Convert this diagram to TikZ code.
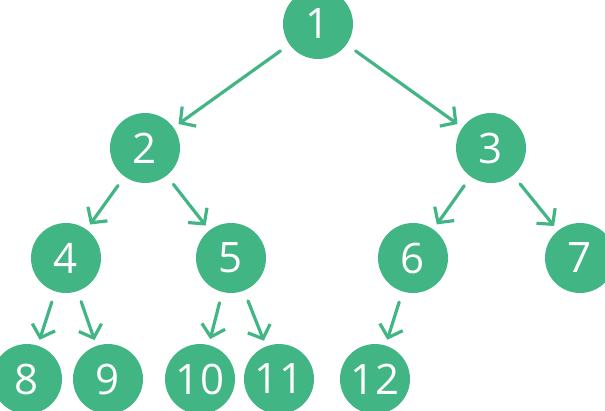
\documentclass[tikz,border=0pt]{standalone}
\usepackage{fontspec}
\setmainfont{Open Sans}
\usetikzlibrary{arrows.meta}
\definecolor{treegreen}{HTML}{42B584}
\tikzset{
  treenode/.style={circle, fill=treegreen, minimum size=70pt, inner sep=0pt,
    text=white, font=\fontsize{42}{42}\selectfont},
  edge/.style={draw=treegreen, line width=3.2pt, line cap=round,
    -{Straight Barb[length=11pt,width=24pt,line width=3.2pt]},
    shorten <=11pt, shorten >=6pt}
}
\begin{document}
\begin{tikzpicture}[x=1pt,y=-1pt]
\useasboundingbox (0,0) rectangle (605,410);
\node[treenode] (n1) at (318,24) {1};
\node[treenode] (n2) at (145,148) {2};
\node[treenode] (n3) at (491,148) {3};
\node[treenode] (n4) at (66,258) {4};
\node[treenode] (n5) at (231,258) {5};
\node[treenode] (n6) at (413,258) {6};
\node[treenode] (n7) at (580,258) {7};
\node[treenode] (n8) at (27,379) {8};
\node[treenode] (n9) at (108,379) {9};
\node[treenode] (n10) at (200,379) {10};
\node[treenode] (n11) at (279,379) {11};
\node[treenode] (n12) at (375,379) {12};
\draw[edge] (n1) -- (n2);
\draw[edge] (n1) -- (n3);
\draw[edge] (n2) -- (n4);
\draw[edge] (n2) -- (n5);
\draw[edge] (n3) -- (n6);
\draw[edge] (n3) -- (n7);
\draw[edge] (n4) -- (n8);
\draw[edge] (n4) -- (n9);
\draw[edge] (n5) -- (n10);
\draw[edge] (n5) -- (n11);
\draw[edge] (n6) -- (n12);
\end{tikzpicture}
\end{document}
